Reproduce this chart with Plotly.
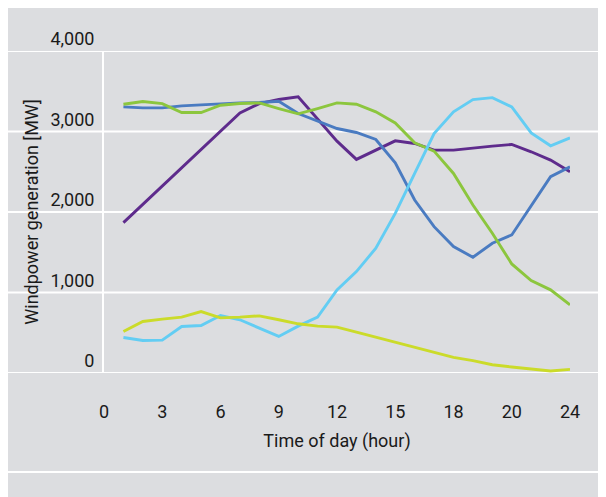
import plotly.graph_objects as go

hours = list(range(1, 25))
purple = [1868, 2095, 2318, 2545, 2769, 2996, 3231, 3347, 3397, 3430, 3160, 2880,
          2653, 2769, 2884, 2851, 2769, 2769, 2789, 2818, 2839, 2748, 2645, 2500]
blue = [3306, 3293, 3293, 3318, 3331, 3347, 3355, 3360, 3376, 3223, 3128, 3037,
        2988, 2901, 2612, 2149, 1818, 1570, 1438, 1612, 1715, 2074, 2438, 2562]
green = [3339, 3372, 3347, 3236, 3236, 3326, 3347, 3355, 3285, 3220, 3285, 3355,
         3339, 3244, 3107, 2860, 2756, 2479, 2087, 1736, 1355, 1149, 1033, 847]
light_blue = [441, 404, 409, 578, 590, 714, 661, 561, 454, 582, 694, 1033,
              1260, 1550, 1983, 2479, 2975, 3244, 3397, 3421, 3306, 2983, 2822, 2921]
lime = [516, 640, 669, 694, 764, 685, 694, 710, 661, 611, 582, 570,
        508, 446, 380, 322, 256, 194, 153, 103, 74, 45, 25, 45]

x_tickvals = [0, 3, 6, 9, 12, 15, 18, 21, 24]
x_ticktext = ["0", "3", "6", "9", "12", "15", "18", "20", "24"]
y_tickvals = [0, 1000, 2000, 3000, 4000]
y_ticktext = ["0", "1,000", "2,000", "3,000", "4,000"]

series = [
    (purple, "#5e2b8c"),
    (blue, "#4a7bc1"),
    (green, "#8cc63e"),
    (light_blue, "#63cdf3"),
    (lime, "#cbdb2a"),
]

BG = "#dcdde0"
FONT = "Roboto"

fig = go.Figure()
for vals, col in series:
    fig.add_trace(go.Scatter(x=hours, y=vals, mode="lines",
                             line=dict(color=col, width=2.9),
                             showlegend=False, hoverinfo="skip"))

# page has an 8px body margin, so the figure is 8px smaller each way
W, H = 598, 489
L, R, T, B = 96, 36, 43, 124
pw = W - L - R
ph = H - T - B

def px_x(p):
    return (p - L) / pw

def px_y(p):
    return (H - B - p) / ph

shapes = [
    dict(type="rect", xref="paper", yref="paper",
         x0=px_x(-2), x1=px_x(W + 2), y0=px_y(-2), y1=px_y(H + 2),
         fillcolor=BG, line=dict(width=0), layer="below"),
]
for v in y_tickvals:
    shapes.append(dict(type="line", xref="paper", yref="y",
                       x0=px_x(-2), x1=px_x(W + 2), y0=v, y1=v,
                       line=dict(color="white", width=2), layer="below"))
for p in (464,):
    shapes.append(dict(type="line", xref="paper", yref="paper",
                       x0=px_x(-2), x1=px_x(W + 2), y0=px_y(p), y1=px_y(p),
                       line=dict(color="white", width=2), layer="below"))

fig.update_layout(
    width=W, height=H,
    margin=dict(l=L, r=R, t=T, b=B, autoexpand=False),
    paper_bgcolor="white",
    plot_bgcolor="rgba(0,0,0,0)",
    font=dict(family=FONT, size=18, color="#1a1a1a"),
    shapes=shapes,
    xaxis=dict(range=[0, 24], tickvals=x_tickvals, ticktext=x_ticktext,
               showgrid=False, zeroline=False, showline=False,
               ticks="", ticklabelstandoff=26, automargin=False,
               title=dict(text="Time of day (hour)", standoff=13,
                          font=dict(size=18))),
    yaxis=dict(range=[0, 4000], tickvals=y_tickvals, ticktext=y_ticktext,
               showgrid=False, zeroline=False, automargin=False,
               showline=True, linecolor="white", linewidth=2,
               ticks="", ticklabelstandoff=4, ticklabelshift=-12,
               title=dict(text="Windpower generation [MW]", standoff=7,
                          font=dict(size=18))),
)

fig.write_html("out.html")
